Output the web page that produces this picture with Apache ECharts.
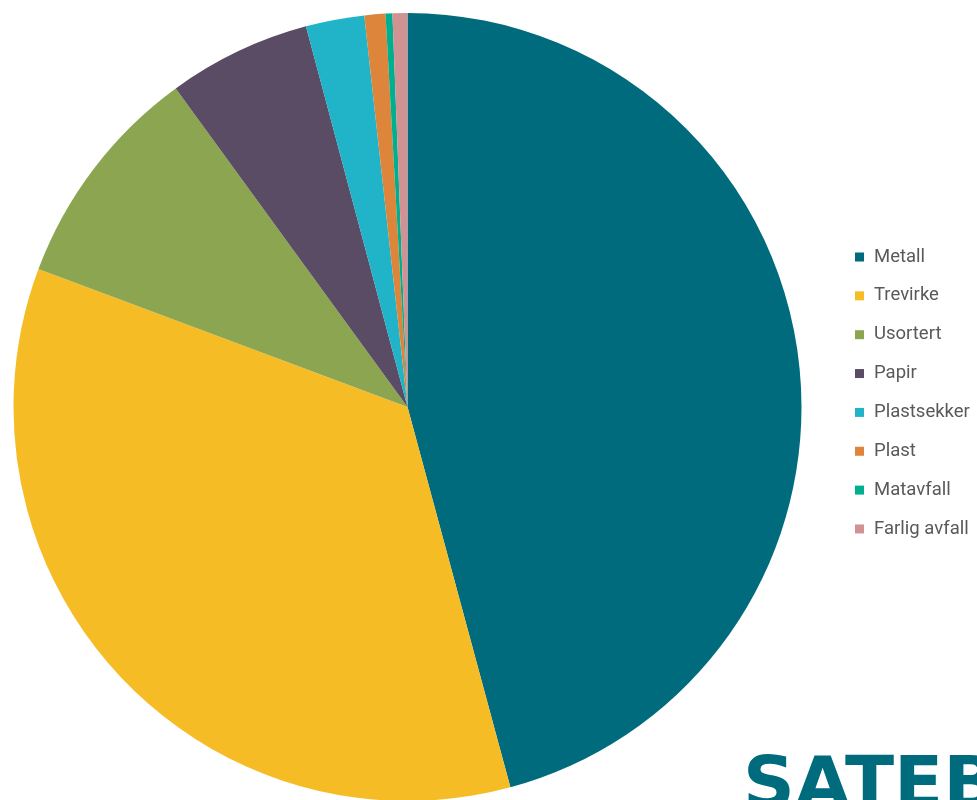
<!DOCTYPE html>
<html><head><meta charset="utf-8">
<script src="https://cdn.jsdelivr.net/npm/echarts@6/dist/echarts.min.js"></script>
<style>html,body{margin:0;padding:0;background:#fff}#c{width:977px;height:800px}</style>
</head><body><div id="c"></div>
<script>
const categories = ["Metall","Trevirke","Usortert","Papir","Plastsekker","Plast","Matavfall","Farlig avfall"];
const values = [45.8, 34.9, 9.3, 5.86, 2.4, 0.86, 0.28, 0.61];
const colors = ["#006B7D","#F6BC26","#8CA550","#594C64","#21B3C8","#DD853B","#00AE90","#D19294"];

const chart = echarts.init(document.getElementById('c'));
chart.setOption({
  animation: false,
  color: colors,
  legend: {
    orient: 'vertical',
    left: 850, top: 242,
    itemWidth: 9, itemHeight: 9, itemGap: 18.85,
    icon: 'rect',
    textStyle: {color: '#595959', fontSize: 18.5, lineHeight: 20, fontFamily: 'Roboto', padding: [0, 0, 0, 5]},
    data: categories
  },
  graphic: [{
    type: 'text', left: 743, top: 752,
    style: {text: 'SATEBA', font: 'bold 72px "DejaVu Sans"', fill: '#006B7D'}
  }],
  series: [{
    type: 'pie',
    center: [407.5, 407],
    radius: 394,
    startAngle: 90,
    clockwise: true,
    label: {show: false},
    labelLine: {show: false},
    itemStyle: {borderWidth: 0},
    data: categories.map((n, i) => ({name: n, value: values[i]}))
  }]
});
</script></body></html>
